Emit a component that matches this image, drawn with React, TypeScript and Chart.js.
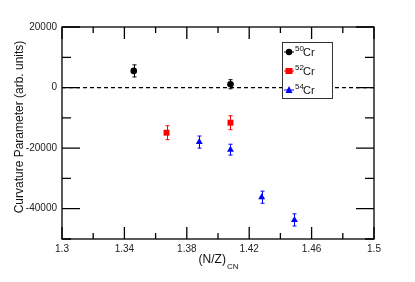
import React, { useEffect, useRef } from "react";
import { Chart, registerables } from "chart.js";

Chart.register(...registerables);

// ---- data ----
const cr50X = [1.346, 1.408];
const cr50Y = [5500, 1100];
const cr50Err = [2000, 1500];

const cr52X = [1.367, 1.408];
const cr52Y = [-14900, -11600];
const cr52Err = [2300, 2300];

const cr54X = [1.388, 1.408, 1.428, 1.449];
const cr54Y = [-18000, -20500, -36200, -43700];
const cr54Err = [2000, 1800, 2000, 2000];

const zeroLineX = [1.3, 1.5];
const zeroLineY = [0, 0];

const xMajorTicks = [1.3, 1.34, 1.38, 1.42, 1.46, 1.5];
const xMinorTicks = [1.32, 1.36, 1.4, 1.44, 1.48];
const yMajorTicks = [20000, 0, -20000, -40000];
const yMinorTicks = [10000, -10000, -30000, -50000];

const legendMasses = ["50", "52", "54"];

const FONT = "'Liberation Sans', Arial, sans-serif";

const mk = (xs: number[], ys: number[]) => xs.map((x, i) => ({ x, y: ys[i] }));

const seriesErrs = [cr50Err, cr52Err, cr54Err];

const errorBars = {
  id: "errorBars",
  beforeDatasetsDraw(chart: any) {
    const ctx = chart.ctx;
    const xs = chart.scales.x;
    const ys = chart.scales.y;
    ctx.save();
    for (let d = 0; d < 3; d++) {
      const ds = chart.data.datasets[d];
      const errs = seriesErrs[d];
      ctx.strokeStyle = ds.borderColor;
      ctx.lineWidth = 1;
      ds.data.forEach((p: any, i: number) => {
        const px = Math.round(xs.getPixelForValue(p.x)) + 0.5;
        const y1 = ys.getPixelForValue(p.y + errs[i]);
        const y2 = ys.getPixelForValue(p.y - errs[i]);
        ctx.beginPath();
        ctx.moveTo(px, y1);
        ctx.lineTo(px, y2);
        ctx.moveTo(px - 2, y1);
        ctx.lineTo(px + 2, y1);
        ctx.moveTo(px - 2, y2);
        ctx.lineTo(px + 2, y2);
        ctx.stroke();
      });
    }
    ctx.restore();
  },
};

const frame = {
  id: "frame",
  afterDraw(chart: any) {
    const ctx = chart.ctx;
    const a = chart.chartArea;
    const xs = chart.scales.x;
    const ys = chart.scales.y;
    ctx.save();
    ctx.strokeStyle = "#000";
    ctx.lineWidth = 1.3;
    ctx.strokeRect(a.left, a.top, a.right - a.left, a.bottom - a.top);
    ctx.beginPath();
    const xt = (v: number, len: number) => {
      const px = xs.getPixelForValue(v);
      ctx.moveTo(px, a.bottom);
      ctx.lineTo(px, a.bottom - len);
      ctx.moveTo(px, a.top);
      ctx.lineTo(px, a.top + len);
    };
    const yt = (v: number, len: number) => {
      const py = ys.getPixelForValue(v);
      ctx.moveTo(a.left, py);
      ctx.lineTo(a.left + len, py);
      ctx.moveTo(a.right, py);
      ctx.lineTo(a.right - len, py);
    };
    xMajorTicks.forEach((v) => xt(v, 12));
    xMinorTicks.forEach((v) => xt(v, 6));
    yMajorTicks.forEach((v) => yt(v, 18));
    yMinorTicks.forEach((v) => yt(v, 9));
    ctx.stroke();

    // axis titles
    ctx.fillStyle = "#111";
    ctx.textBaseline = "middle";
    ctx.textAlign = "center";
    ctx.save();
    ctx.translate(a.left - 42, (a.top + a.bottom) / 2 - 6);
    ctx.rotate(-Math.PI / 2);
    ctx.font = `12px ${FONT}`;
    ctx.fillText("Curvature Parameter (arb. units)", 0, 0);
    ctx.restore();

    const cx = (a.left + a.right) / 2;
    ctx.font = `12px ${FONT}`;
    const main = "(N/Z)";
    const wMain = ctx.measureText(main).width;
    ctx.font = `8px ${FONT}`;
    const wSub = ctx.measureText("CN").width;
    const startX = cx - (wMain + wSub) / 2;
    ctx.textAlign = "left";
    ctx.font = `12px ${FONT}`;
    ctx.fillText(main, startX, a.bottom + 21);
    ctx.font = `8px ${FONT}`;
    ctx.fillText("CN", startX + wMain + 1, a.bottom + 28);

    // legend
    const lx = a.right - 92;
    const ly = a.top + 15;
    const lw = 50;
    const lh = 56;
    ctx.fillStyle = "#fff";
    ctx.fillRect(lx, ly, lw, lh);
    ctx.strokeStyle = "#333";
    ctx.lineWidth = 1;
    ctx.strokeRect(lx + 0.5, ly + 0.5, lw, lh);
    for (let d = 0; d < 3; d++) {
      const ds = chart.data.datasets[d];
      const rowY = ly + 10 + d * 19;
      ctx.strokeStyle = ds.borderColor;
      ctx.lineWidth = 1;
      ctx.beginPath();
      ctx.moveTo(lx + 2, rowY);
      ctx.lineTo(lx + 12, rowY);
      ctx.stroke();
      ctx.fillStyle = ds.backgroundColor;
      ctx.strokeStyle = ds.borderColor;
      const mx = lx + 7;
      ctx.beginPath();
      if (ds.pointStyle === "circle") {
        ctx.arc(mx, rowY, 3.2, 0, Math.PI * 2);
      } else if (ds.pointStyle === "rect") {
        ctx.rect(mx - 3.5, rowY - 3, 7, 6);
      } else {
        ctx.moveTo(mx, rowY - 4);
        ctx.lineTo(mx + 3.5, rowY + 3);
        ctx.lineTo(mx - 3.5, rowY + 3);
        ctx.closePath();
      }
      ctx.fill();
      ctx.fillStyle = "#111";
      ctx.textAlign = "left";
      ctx.font = `8px ${FONT}`;
      ctx.fillText(legendMasses[d], lx + 13, rowY - 3);
      ctx.font = `11px ${FONT}`;
      ctx.fillText("Cr", lx + 21, rowY + 1);
    }
    ctx.restore();
  },
};

export default function App() {
  const ref = useRef<HTMLCanvasElement | null>(null);
  useEffect(() => {
    document.body.style.margin = "0";
    const canvas = ref.current;
    if (!canvas) return;
    const chart = new Chart(canvas, {
      type: "scatter",
      data: {
        datasets: [
          {
            label: "50Cr",
            data: mk(cr50X, cr50Y),
            pointStyle: "circle",
            pointRadius: 3.3,
            backgroundColor: "#000",
            borderColor: "#000",
            borderWidth: 0,
          },
          {
            label: "52Cr",
            data: mk(cr52X, cr52Y),
            pointStyle: "rect",
            pointRadius: 4.2,
            backgroundColor: "#ff0000",
            borderColor: "#ff0000",
            borderWidth: 0,
          },
          {
            label: "54Cr",
            data: mk(cr54X, cr54Y),
            pointStyle: "triangle",
            pointRadius: 4,
            backgroundColor: "#0000ff",
            borderColor: "#0000ff",
            borderWidth: 0,
          },
          {
            type: "line",
            label: "zero",
            data: mk(zeroLineX, zeroLineY),
            borderColor: "#000",
            borderWidth: 1.2,
            borderDash: [4, 3],
            pointRadius: 0,
            order: 10,
          } as any,
        ],
      },
      options: {
        animation: false,
        responsive: false,
        layout: { padding: { top: 27, right: 41, bottom: 0, left: 0 } },
        plugins: { legend: { display: false }, tooltip: { enabled: false } },
        scales: {
          x: {
            type: "linear",
            min: 1.3,
            max: 1.5,
            grid: { display: false, drawTicks: false },
            border: { display: false },
            afterBuildTicks: (s: any) => {
              s.ticks = xMajorTicks.map((v) => ({ value: v }));
            },
            afterFit: (s: any) => {
              s.height = 43;
            },
            ticks: {
              autoSkip: false,
              maxRotation: 0,
              padding: 4,
              color: "#222",
              font: { family: FONT, size: 10 },
              callback: (v: any) => String(Number(Number(v).toFixed(2))),
            },
          },
          y: {
            type: "linear",
            min: -50000,
            max: 20000,
            grid: { display: false, drawTicks: false },
            border: { display: false },
            afterBuildTicks: (s: any) => {
              s.ticks = yMajorTicks.map((v) => ({ value: v }));
            },
            afterFit: (s: any) => {
              s.width = 62;
            },
            ticks: {
              autoSkip: false,
              padding: 5,
              color: "#222",
              font: { family: FONT, size: 10 },
              callback: (v: any) => String(v),
            },
          },
        },
      },
      plugins: [errorBars, frame],
    } as any);
    return () => chart.destroy();
  }, []);
  return (
    <div style={{ width: 415, height: 282 }}>
      <canvas ref={ref} width={415} height={282} style={{ width: 415, height: 282 }} />
    </div>
  );
}
